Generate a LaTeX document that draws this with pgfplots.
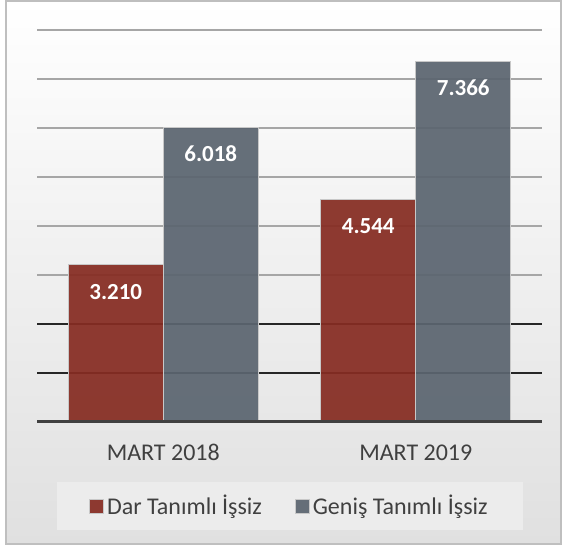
\documentclass[border=0pt]{standalone}
\usepackage{fontspec}
\setmainfont{Carlito}
\usepackage{pgfplots}
\pgfplotsset{compat=1.18}
\definecolor{darred}{RGB}{134,44,34}
\definecolor{genis}{RGB}{91,101,112}
\definecolor{txt}{RGB}{64,64,64}
\definecolor{gridc}{RGB}{166,166,166}
\definecolor{gridd}{RGB}{38,38,38}
\definecolor{basec}{RGB}{64,64,64}
\definecolor{framec}{RGB}{191,191,191}
\definecolor{bgb}{RGB}{224,224,224}
\definecolor{legfill}{RGB}{236,236,236}
\definecolor{baredge}{RGB}{200,200,200}
\begin{document}
\begin{tikzpicture}
\begin{axis}[set layers, clip=false, scale only axis,
  width=252.5pt, height=196pt,
  ybar=0pt, bar width=47.5pt,
  xmin=-0.5, xmax=1.5, ymin=0, ymax=8000,
  xtick=data, xticklabels={MART 2018, MART 2019},
  ytick={3000,4000,5000,6000,7000,8000}, yticklabels={},
  extra y ticks={1000,2000}, extra y tick labels={},
  extra y tick style={grid style={gridd, line width=0.75pt}},
  ymajorgrids, grid style={gridc, line width=0.75pt},
  axis line style={draw=none}, major tick length=0pt,
  xticklabel style={font=\fontsize{12}{14}\selectfont, text=txt, anchor=base, yshift=-19.5pt},
  nodes near coords,
  every node near coord/.append style={font=\bfseries\fontsize{11.5}{13}\selectfont, text=white, text opacity=1, anchor=center, yshift=-13.5pt},
  point meta=explicit symbolic,
  legend columns=2,
  legend image code/.code={\draw[#1] (0pt,-3.5pt) rectangle (7pt,3.5pt);},
  legend style={at={(0.501,-0.2143)}, anchor=center, fill=legfill, draw=none,
    inner xsep=16pt, inner ysep=5pt, font=\fontsize{12}{14}\selectfont, text=txt,
    nodes={inner sep=1.5pt},
    /tikz/every even column/.append style={column sep=15pt}},
  legend cell align=left,
]
\begin{pgfonlayer}{axis background}
\shade[top color=white, bottom color=bgb]
  ([shift={(-15.5pt,-61pt)}]rel axis cs:0,0) rectangle ([shift={(9.5pt,14.5pt)}]rel axis cs:1,1);
\draw[framec, line width=0.75pt]
  ([shift={(-15.5pt,-61pt)}]rel axis cs:0,0) rectangle ([shift={(9.5pt,14.5pt)}]rel axis cs:1,1);
\path ([shift={(-18.5pt,-62.5pt)}]rel axis cs:0,0) rectangle ([shift={(12pt,15pt)}]rel axis cs:1,1);
\end{pgfonlayer}
\addplot[fill=darred, draw=baredge, line width=0.4pt, fill opacity=0.93]
  coordinates {(0,3210) [3.210] (1,4544) [4.544]};
\addplot[fill=genis, draw=baredge, line width=0.4pt, fill opacity=0.93]
  coordinates {(0,6018) [6.018] (1,7366) [7.366]};
\legend{Dar Tanımlı İşsiz, Geniş Tanımlı İşsiz}
\draw[basec, line width=1.5pt] (rel axis cs:0,0) -- (rel axis cs:1,0);
\end{axis}
\end{tikzpicture}
\end{document}
